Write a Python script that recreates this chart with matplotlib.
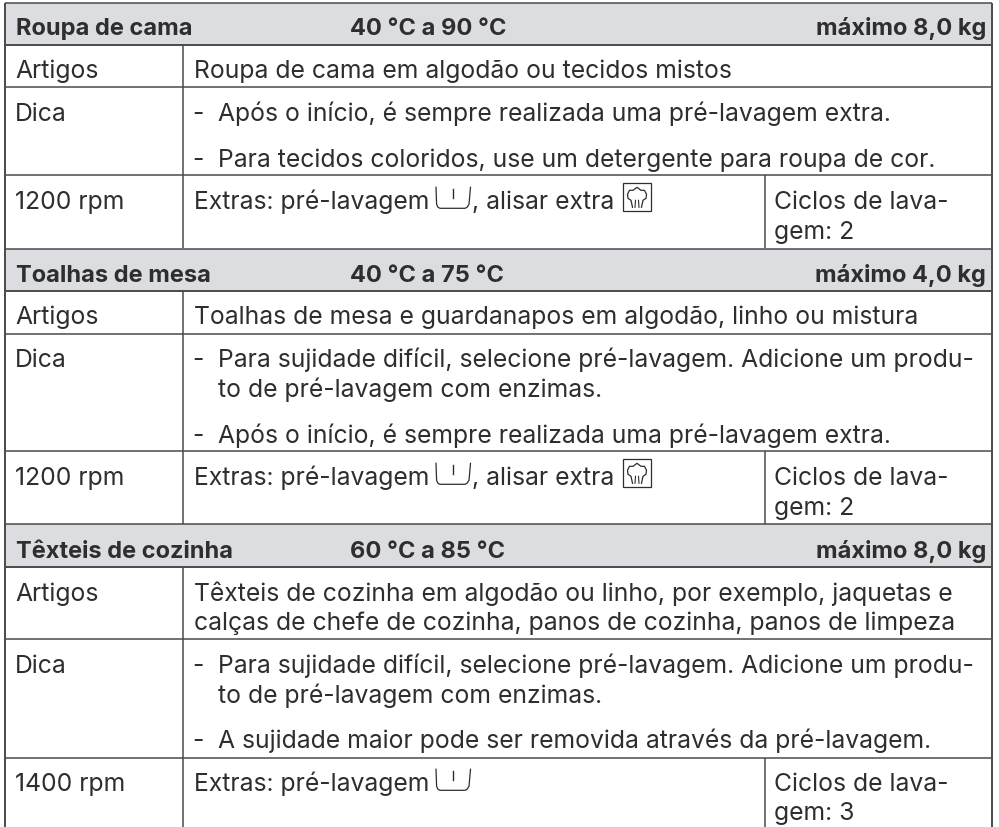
import matplotlib
matplotlib.use('Agg')
import matplotlib.pyplot as plt

W, H = 999, 828
BODY_FONT = 'Inter'
BODY_SIZE = 17.8
HEAD_SIZE = 17.0
TXT = '#2e2e2e'
LINE = '#4a4a4a'
HEAD_BG = '#dcdde0'

# table content
titles = ['Roupa de cama', 'Toalhas de mesa', 'Têxteis de cozinha']
temps = ['40 °C a 90 °C', '40 °C a 75 °C', '60 °C a 85 °C']
loads = ['máximo 8,0 kg', 'máximo 4,0 kg', 'máximo 8,0 kg']
row_labels = ['Artigos', 'Dica']
speeds = ['1200 rpm', '1200 rpm', '1400 rpm']
artigos = [
    ['Roupa de cama em algodão ou tecidos mistos'],
    ['Toalhas de mesa e guardanapos em algodão, linho ou mistura'],
    ['Têxteis de cozinha em algodão ou linho, por exemplo, jaquetas e',
     'calças de chefe de cozinha, panos de cozinha, panos de limpeza'],
]
dicas = [
    [['Após o início, é sempre realizada uma pré-lavagem extra.'],
     ['Para tecidos coloridos, use um detergente para roupa de cor.']],
    [['Para sujidade difícil, selecione pré-lavagem. Adicione um produ-',
      'to de pré-lavagem com enzimas.'],
     ['Após o início, é sempre realizada uma pré-lavagem extra.']],
    [['Para sujidade difícil, selecione pré-lavagem. Adicione um produ-',
      'to de pré-lavagem com enzimas.'],
     ['A sujidade maior pode ser removida através da pré-lavagem.']],
]
extras_a = ['Extras: pré-lavagem', 'Extras: pré-lavagem', 'Extras: pré-lavagem']
extras_b = [', alisar extra', ', alisar extra', '']
ciclos = [['Ciclos de lava-', 'gem: 2'], ['Ciclos de lava-', 'gem: 2'], ['Ciclos de lava-', 'gem: 3']]

# layout, pixels from the top of the image
LEFT, RIGHT, COL1, COL2 = 5, 991.5, 182.5, 764.5
tops = [3.5, 249.5, 525]
head_bottoms = [45.5, 292, 567.5]
art_bottoms = [88, 334.5, 640]
dica_bottoms = [176, 452, 758.5]
row_bottoms = [248.5, 525, 829]
head_base = [35, 281.7, 557.7]
art_base = [[78.2], [324.2], [601.2, 630.2]]
dica_base = [[[121], [167]], [[367.5, 397.5], [443.2]], [[673.2, 703.5], [748.5]]]
rpm_base = [209.3, 485.3, 791.3]
gem_base = [239.3, 515.3, 820.3]

fig = plt.figure(figsize=(W / 100, H / 100), dpi=100)
ax = fig.add_axes([0, 0, 1, 1])
ax.set_xlim(0, W)
ax.set_ylim(H, 0)
ax.axis('off')


def txt(x, y, s, bold=False, ha='left', size=None):
    ax.text(x, y, s, family=BODY_FONT, color=TXT, ha=ha, va='baseline',
            fontweight='bold' if bold else 'normal',
            fontsize=size or (HEAD_SIZE if bold else BODY_SIZE))


def hline(y, x0=LEFT, x1=RIGHT, lw=1.1):
    ax.plot([x0, x1], [y, y], color=LINE, lw=lw, solid_capstyle='butt')


def vline(x, y0, y1, lw=1.1):
    ax.plot([x, x], [y0, y1], color=LINE, lw=lw, solid_capstyle='butt')


def tub(x, base):
    # prewash symbol
    ax.plot([x, x + 0.6, x + 2, x + 4, x + 29, x + 31, x + 33, x + 34.5],
            [base - 21, base - 4, base - 1, base, base, base - 1, base - 4, base - 21],
            color=TXT, lw=0.9)
    ax.plot([x + 17, x + 17], [base - 19, base - 10], color=TXT, lw=1.0)


def hat(x, base):
    # extra smoothing symbol: boxed chef hat
    ax.add_patch(plt.Rectangle((x, base - 25), 28, 28, fill=False, ec=TXT, lw=0.9))
    ax.plot([x + 9.5, x + 8, x + 5, x + 4.5, x + 6.5, x + 10, x + 14, x + 18, x + 21.5, x + 23.5, x + 23, x + 20, x + 18.5],
            [base - 1, base - 8, base - 10, base - 14, base - 18, base - 18, base - 21, base - 18, base - 18, base - 14, base - 10, base - 8, base - 1],
            color=TXT, lw=0.9)
    ax.plot([x + 12.5, x + 12], [base - 8, base - 1], color=TXT, lw=0.8)
    ax.plot([x + 15.5, x + 16], [base - 8, base - 1], color=TXT, lw=0.8)


for i in range(3):
    ax.add_patch(plt.Rectangle((LEFT, tops[i]), RIGHT - LEFT, head_bottoms[i] - tops[i], fc=HEAD_BG, ec='none'))
    txt(15.5, head_base[i], titles[i], bold=True)
    txt(350, head_base[i], temps[i], bold=True)
    txt(986, head_base[i], loads[i], bold=True, ha='right')

    hline(tops[i])
    hline(head_bottoms[i], lw=1.4)
    hline(art_bottoms[i])
    hline(dica_bottoms[i])
    vline(COL1, head_bottoms[i], row_bottoms[i])
    vline(COL2, dica_bottoms[i], row_bottoms[i])

    txt(15, art_base[i][0], row_labels[0])
    for y, s in zip(art_base[i], artigos[i]):
        txt(193.5, y, s)

    txt(15, dica_base[i][0][0], row_labels[1])
    for bases, lines in zip(dica_base[i], dicas[i]):
        txt(192.5, bases[0], '-')
        for y, s in zip(bases, lines):
            txt(218, y, s)

    txt(15, rpm_base[i], speeds[i])
    txt(193.5, rpm_base[i], extras_a[i])
    tub(436, rpm_base[i])
    if extras_b[i]:
        txt(472, rpm_base[i], extras_b[i])
        hat(623, rpm_base[i])
    txt(774, rpm_base[i], ciclos[i][0])
    txt(774, gem_base[i], ciclos[i][1])

vline(LEFT, tops[0], H, lw=1.4)
vline(RIGHT, tops[0], H, lw=1.4)

fig.savefig('out.png', dpi=100)
